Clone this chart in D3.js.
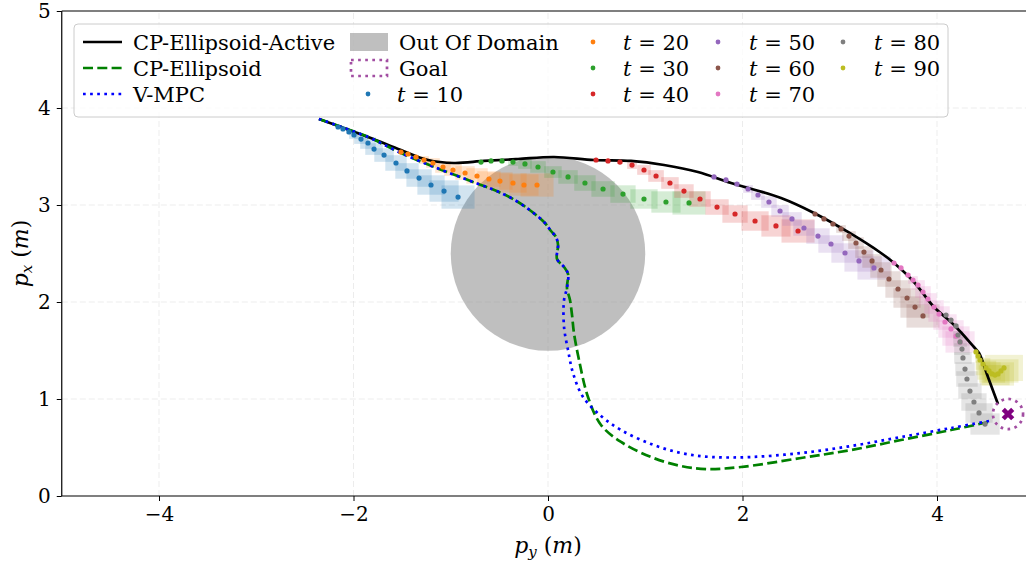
<!DOCTYPE html>
<html>
<head>
<meta charset="utf-8">
<script src="https://cdn.jsdelivr.net/npm/d3@7"></script>
<style>
  html, body { margin: 0; padding: 0; background: #fff; }
  svg { display: block; }
  svg text { font-family: "DejaVu Serif", "Liberation Serif", serif; }
</style>
</head>
<body>
<div id="chart"></div>
<script>
// trajectories, [p_y, p_x] in metres
const activePath = [
  [-2.355, 3.887], [-1.851, 3.701], [-1.512, 3.567], [-1.234, 3.464], [-0.967, 3.433],
  [-0.658, 3.454], [-0.308, 3.474], [0.062, 3.495], [0.473, 3.464], [0.853, 3.454],
  [1.193, 3.412], [1.542, 3.340], [1.882, 3.227], [2.396, 3.072], [2.735, 2.918],
  [3.085, 2.722], [3.424, 2.505], [3.558, 2.402], [3.763, 2.206], [3.969, 1.948],
  [4.175, 1.763], [4.380, 1.536], [4.432, 1.474], [4.524, 1.227], [4.627, 0.948]
];

const sharedStart = [
  [-2.355, 3.887], [-1.851, 3.701], [-1.512, 3.536], [-1.172, 3.392], [-0.823, 3.258],
  [-0.483, 3.124], [-0.308, 3.031], [-0.175, 2.938], [-0.041, 2.825], [0.031, 2.732],
  [0.082, 2.670], [0.103, 2.588], [0.093, 2.443], [0.165, 2.361], [0.206, 2.289],
  [0.195, 2.144]
];

const ellipsoidPath = sharedStart.concat([
  [0.226, 2.021], [0.247, 1.866], [0.267, 1.680], [0.319, 1.402], [0.411, 1.021],
  [0.545, 0.732], [0.751, 0.557], [1.059, 0.402], [1.368, 0.309], [1.625, 0.278],
  [1.985, 0.299], [2.602, 0.392], [3.116, 0.474], [3.630, 0.577], [4.144, 0.680],
  [4.535, 0.763]
]);

const vmpcPath = sharedStart.concat([
  [0.165, 2.021], [0.165, 1.742], [0.206, 1.505], [0.257, 1.268], [0.360, 1.021],
  [0.545, 0.825], [0.751, 0.680], [1.059, 0.536], [1.368, 0.443], [1.676, 0.402],
  [2.087, 0.402], [2.602, 0.443], [3.116, 0.515], [3.630, 0.608], [4.144, 0.701],
  [4.535, 0.773]
]);

// predicted positions at each snapshot
const snapTimes = [10, 20, 30, 40, 50, 60, 70, 80, 90];
const snapColors = ['#1f77b4', '#ff7f0e', '#2ca02c', '#d62728', '#9467bd',
                    '#8c564b', '#e377c2', '#7f7f7f', '#bcbd22'];

const snap10 = [
  [-2.159, 3.804], [-2.108, 3.784], [-2.046, 3.753], [-1.995, 3.722], [-1.923, 3.680],
  [-1.851, 3.639], [-1.789, 3.577], [-1.686, 3.515], [-1.563, 3.433], [-1.450, 3.351],
  [-1.326, 3.278], [-1.203, 3.206], [-1.069, 3.144], [-0.925, 3.082]
];
const snap20 = [
  [-1.512, 3.546], [-1.440, 3.526], [-1.357, 3.495], [-1.275, 3.464], [-1.183, 3.433],
  [-1.080, 3.392], [-0.977, 3.361], [-0.853, 3.330], [-0.730, 3.299], [-0.607, 3.268],
  [-0.494, 3.247], [-0.360, 3.227], [-0.247, 3.206], [-0.113, 3.206]
];
const snap30 = [
  [-0.689, 3.443], [-0.586, 3.454], [-0.473, 3.454], [-0.360, 3.443], [-0.237, 3.423],
  [-0.103, 3.392], [0.051, 3.340], [0.206, 3.289], [0.380, 3.227], [0.566, 3.165],
  [0.771, 3.113], [0.987, 3.062], [1.213, 3.031], [1.450, 3.021]
];
const snap40 = [
  [0.494, 3.464], [0.617, 3.454], [0.740, 3.443], [0.864, 3.412], [0.987, 3.361],
  [1.111, 3.299], [1.254, 3.227], [1.398, 3.144], [1.563, 3.062], [1.738, 2.979],
  [1.923, 2.907], [2.129, 2.835], [2.344, 2.784], [2.571, 2.732]
];
const snap50 = [
  [1.707, 3.289], [1.830, 3.258], [1.943, 3.216], [2.057, 3.165], [2.159, 3.103],
  [2.272, 3.031], [2.386, 2.938], [2.509, 2.856], [2.632, 2.763], [2.776, 2.680],
  [2.910, 2.598], [3.054, 2.505], [3.198, 2.423], [3.352, 2.351]
];
const snap60 = [
  [2.746, 2.907], [2.838, 2.856], [2.931, 2.804], [3.013, 2.753], [3.095, 2.680],
  [3.167, 2.608], [3.249, 2.515], [3.332, 2.423], [3.424, 2.330], [3.506, 2.237],
  [3.599, 2.134], [3.692, 2.041], [3.774, 1.948], [3.856, 1.856]
];
const snap70 = [
  [3.558, 2.402], [3.630, 2.351], [3.702, 2.278], [3.753, 2.227], [3.805, 2.175],
  [3.856, 2.103], [3.907, 2.031], [3.969, 1.948], [4.021, 1.876], [4.082, 1.794],
  [4.144, 1.722], [4.195, 1.649], [4.237, 1.588]
];
const snap80 = [
  [4.093, 1.866], [4.144, 1.814], [4.195, 1.753], [4.216, 1.660], [4.237, 1.588],
  [4.257, 1.515], [4.267, 1.423], [4.288, 1.309], [4.308, 1.206], [4.339, 1.082],
  [4.380, 0.969], [4.432, 0.856], [4.494, 0.742]
];
const snap90 = [
  [4.401, 1.485], [4.422, 1.443], [4.442, 1.402], [4.473, 1.361], [4.504, 1.320],
  [4.535, 1.289], [4.566, 1.258], [4.596, 1.247], [4.627, 1.258], [4.658, 1.289],
  [4.689, 1.320]
];
const snapshots = [snap10, snap20, snap30, snap40, snap50, snap60, snap70, snap80, snap90];

// half extent of the uncertainty box per prediction step (m)
const boxHalfY = [0.01, 0.02, 0.03, 0.05, 0.07, 0.08, 0.09, 0.10, 0.11, 0.12, 0.13, 0.14, 0.15, 0.17];
const boxHalfX = [0.01, 0.02, 0.02, 0.04, 0.05, 0.06, 0.06, 0.07, 0.08, 0.08, 0.09, 0.10, 0.11, 0.12];
const boxGrow  = [1, 1, 1, 1, 1, 1, 1, 1, 1.5];

const obstacle = { py: 0, px: 2.5, r: 1.0 };
const goal = { py: 4.73, px: 0.845, r: 0.155 };

const xTicks = [-4, -2, 0, 2, 4];
const yTicks = [0, 1, 2, 3, 4, 5];

const W = 1026, H = 565;
const FONT = '"DejaVu Serif", "Liberation Serif", serif';
const x = d3.scaleLinear().domain([-5, 5]).range([61.75, 1034.25]);
const y = d3.scaleLinear().domain([0, 5]).range([496, 11]);

const svg = d3.select('#chart').append('svg')
  .attr('width', W).attr('height', H)
  .attr('viewBox', `0 0 ${W} ${H}`);

svg.append('defs').append('clipPath').attr('id', 'plot-clip')
  .append('rect')
  .attr('x', x(-5)).attr('y', y(5))
  .attr('width', x(5) - x(-5)).attr('height', y(0) - y(5));

// grid
const gGrid = svg.append('g').attr('class', 'grid');
gGrid.selectAll('line.gx').data(xTicks).join('line')
  .attr('x1', d => x(d)).attr('x2', d => x(d))
  .attr('y1', y(0)).attr('y2', y(5))
  .attr('stroke', '#b0b0b0').attr('stroke-opacity', 0.3)
  .attr('stroke-width', 0.8).attr('stroke-dasharray', '6,3');
gGrid.selectAll('line.gy').data(yTicks.slice(1, -1)).join('line')
  .attr('x1', x(-5)).attr('x2', x(5))
  .attr('y1', d => y(d)).attr('y2', d => y(d))
  .attr('stroke', '#b0b0b0').attr('stroke-opacity', 0.3)
  .attr('stroke-width', 0.8).attr('stroke-dasharray', '6,3');

const plot = svg.append('g').attr('clip-path', 'url(#plot-clip)');

// out of domain
plot.append('circle')
  .attr('cx', x(obstacle.py)).attr('cy', y(obstacle.px))
  .attr('r', x(obstacle.r) - x(0))
  .attr('fill', '#808080').attr('fill-opacity', 0.5);

// uncertainty boxes
snapshots.forEach((pts, s) => {
  plot.append('g').selectAll('rect').data(pts).join('rect')
    .attr('x', (d, i) => x(d[0] - boxHalfY[i] * boxGrow[s]))
    .attr('y', (d, i) => y(d[1] + boxHalfX[i] * boxGrow[s]))
    .attr('width', (d, i) => x(d[0] + boxHalfY[i] * boxGrow[s]) - x(d[0] - boxHalfY[i] * boxGrow[s]))
    .attr('height', (d, i) => y(d[1] - boxHalfX[i] * boxGrow[s]) - y(d[1] + boxHalfX[i] * boxGrow[s]))
    .attr('fill', snapColors[s]).attr('fill-opacity', 0.2);
});

const line = d3.line().x(d => x(d[0])).y(d => y(d[1])).curve(d3.curveCatmullRom.alpha(0.5));

plot.append('path').datum(activePath).attr('d', line)
  .attr('fill', 'none').attr('stroke', '#000').attr('stroke-width', 2.7);
plot.append('path').datum(ellipsoidPath).attr('d', line)
  .attr('fill', 'none').attr('stroke', '#008000').attr('stroke-width', 2.7)
  .attr('stroke-dasharray', '10,4.3');
plot.append('path').datum(vmpcPath).attr('d', line)
  .attr('fill', 'none').attr('stroke', '#0000ff').attr('stroke-width', 2.7)
  .attr('stroke-dasharray', '2.7,4.4');

// predicted points
snapshots.forEach((pts, s) => {
  plot.append('g').selectAll('circle').data(pts).join('circle')
    .attr('cx', d => x(d[0])).attr('cy', d => y(d[1]))
    .attr('r', 2.6).attr('fill', snapColors[s]);
});

// goal
plot.append('circle')
  .attr('cx', x(goal.py)).attr('cy', y(goal.px))
  .attr('r', x(goal.r) - x(0))
  .attr('fill', 'none').attr('stroke', '#a24ea2').attr('stroke-width', 2.7)
  .attr('stroke-dasharray', '2.7,4.4');
plot.append('path')
  .attr('d', d3.symbol(d3.symbolX, 60)())
  .attr('transform', `translate(${x(goal.py)},${y(goal.px)})`)
  .attr('stroke', '#800080').attr('stroke-width', 4.5).attr('fill', 'none');

// axes
const xAxis = svg.append('g').attr('transform', `translate(0,${y(0)})`)
  .call(d3.axisBottom(x).tickValues(xTicks).tickSize(5).tickPadding(6)
    .tickFormat(d => d < 0 ? '\u2212' + Math.abs(d) : String(d)));
const yAxis = svg.append('g').attr('transform', `translate(${x(-5)},0)`)
  .call(d3.axisLeft(y).tickValues(yTicks).tickSize(5).tickPadding(6)
    .tickFormat(d3.format('d')));
[xAxis, yAxis].forEach(a => {
  a.attr('font-family', FONT);
  a.select('.domain').remove();
  a.selectAll('.tick line').attr('stroke', '#000').attr('stroke-width', 1);
  a.selectAll('.tick text').attr('font-size', 20).attr('fill', '#000');
});
// spines
svg.append('line').attr('x1', x(-5)).attr('x2', x(5)).attr('y1', y(0)).attr('y2', y(0))
  .attr('stroke', '#000').attr('stroke-width', 1.2);
svg.append('line').attr('x1', x(-5)).attr('x2', x(5)).attr('y1', y(5)).attr('y2', y(5))
  .attr('stroke', '#000').attr('stroke-width', 1.2);
svg.append('line').attr('x1', x(-5)).attr('x2', x(-5)).attr('y1', y(0)).attr('y2', y(5))
  .attr('stroke', '#000').attr('stroke-width', 1.2);

// axis labels
const xl = svg.append('text').attr('x', x(0)).attr('y', 553)
  .attr('text-anchor', 'middle').attr('font-size', 22);
xl.append('tspan').attr('font-style', 'italic').text('p');
xl.append('tspan').attr('font-style', 'italic').attr('font-size', 15).attr('dy', 4).text('y');
xl.append('tspan').attr('dy', -4).text(' (');
xl.append('tspan').attr('font-style', 'italic').text('m');
xl.append('tspan').text(')');

const yl = svg.append('text')
  .attr('transform', `translate(28,${y(2.5)}) rotate(-90)`)
  .attr('text-anchor', 'middle').attr('font-size', 22);
yl.append('tspan').attr('font-style', 'italic').text('p');
yl.append('tspan').attr('font-style', 'italic').attr('font-size', 15).attr('dy', 4).text('x');
yl.append('tspan').attr('dy', -4).text(' (');
yl.append('tspan').attr('font-style', 'italic').text('m');
yl.append('tspan').text(')');

// legend
const legend = svg.append('g');
legend.append('rect')
  .attr('x', 74).attr('y', 24).attr('width', 874).attr('height', 93)
  .attr('rx', 4).attr('fill', '#fff').attr('fill-opacity', 0.8)
  .attr('stroke', '#cccccc').attr('stroke-width', 1);

const rowY = [42, 68, 94];
function legText(xp, yp, label) {
  return legend.append('text').attr('x', xp).attr('y', yp + 7.5)
    .attr('font-size', 21).attr('fill', '#000').text(label);
}
function legLine(yp, color, dash) {
  legend.append('line').attr('x1', 83).attr('x2', 122).attr('y1', yp).attr('y2', yp)
    .attr('stroke', color).attr('stroke-width', 2.7).attr('stroke-dasharray', dash);
}
legLine(rowY[0], '#000', null);
legText(133, rowY[0], 'CP-Ellipsoid-Active');
legLine(rowY[1], '#008000', '10,4.3');
legText(133, rowY[1], 'CP-Ellipsoid');
legLine(rowY[2], '#0000ff', '2.7,4.4');
legText(133, rowY[2], 'V-MPC');

legend.append('rect').attr('x', 350).attr('y', rowY[0] - 9).attr('width', 38).attr('height', 18)
  .attr('fill', '#808080').attr('fill-opacity', 0.5);
legText(399, rowY[0], 'Out Of Domain');
legend.append('rect').attr('x', 351).attr('y', rowY[1] - 8).attr('width', 36).attr('height', 16)
  .attr('fill', 'none').attr('stroke', '#a24ea2').attr('stroke-width', 2.7)
  .attr('stroke-dasharray', '2.7,4.4');
legText(399, rowY[1], 'Goal');

const snapSlots = [
  [368, 397, 2], [593, 623, 0], [593, 623, 1], [593, 623, 2],
  [718, 749, 0], [718, 749, 1], [718, 749, 2], [843, 874, 0], [843, 874, 1]
];
snapTimes.forEach((t, s) => {
  const [dx, tx, r] = snapSlots[s];
  legend.append('circle').attr('cx', dx).attr('cy', rowY[r]).attr('r', 2.4).attr('fill', snapColors[s]);
  const tt = legText(tx, rowY[r], '');
  tt.append('tspan').attr('font-style', 'italic').text('t');
  tt.append('tspan').text(' = ' + t);
});
</script>
</body>
</html>
